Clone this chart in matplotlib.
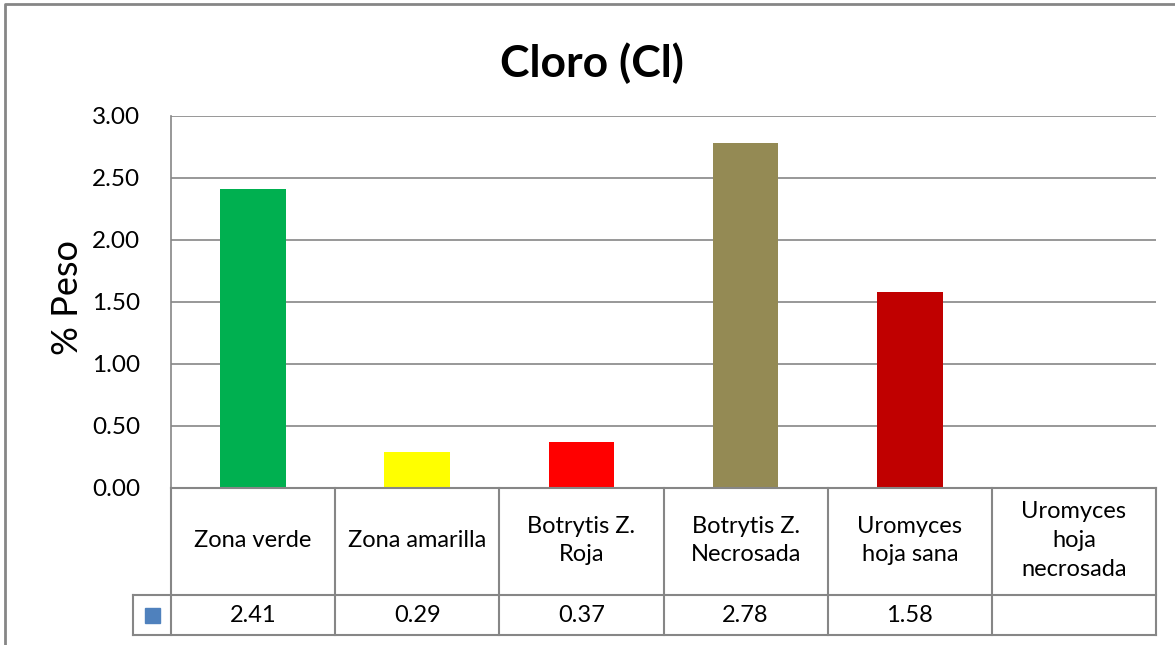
import numpy as np
import matplotlib.pyplot as plt
from matplotlib.patches import Rectangle

plt.rcParams['font.family'] = ['Lato', 'DejaVu Sans']

# data
categories = ['Zona verde', 'Zona amarilla', 'Botrytis Z.\nRoja', 'Botrytis Z.\nNecrosada',
              'Uromyces\nhoja sana', 'Uromyces\nhoja\nnecrosada']
values = [2.41, 0.29, 0.37, 2.78, 1.58, np.nan]
value_labels = ['2.41', '0.29', '0.37', '2.78', '1.58', '']
bar_colors = ['#00B050', '#FFFF00', '#FF0000', '#948A54', '#C00000', '#4F81BD']
yticks = [0.0, 0.5, 1.0, 1.5, 2.0, 2.5, 3.0]

W, H = 1175, 645
grid_c = '#868686'


def fx(px):
    return px / W


def fy(py):
    return 1 - py / H


fig = plt.figure(figsize=(W / 100, H / 100), dpi=100)

# outer chart border (cropped on right and bottom)
bg = fig.add_axes([0, 0, 1, 1])
bg.set_xlim(0, W)
bg.set_ylim(H, 0)
bg.axis('off')
bg.plot([5, 5, W + 5], [H + 5, 4, 4], color=grid_c, lw=2)

# main plot area
x0, x1, ytop, ybot = 171, 1156, 116, 488
ax = fig.add_axes([fx(x0), fy(ybot), fx(x1 - x0), (ybot - ytop) / H])
x = np.arange(len(categories))
ax.bar(x, values, width=0.4, color=bar_colors, zorder=3)
ax.set_xlim(-0.5, len(categories) - 0.5)
ax.set_ylim(0, 3)
ax.set_yticks(yticks)
ax.set_yticklabels([f'{v:.2f}' for v in yticks], fontsize=17.5)
ax.tick_params(axis='y', length=0, pad=22)
ax.set_xticks([])
ax.grid(axis='y', color=grid_c, lw=1.2, zorder=0)
for s in ['top', 'right', 'bottom']:
    ax.spines[s].set_visible(False)
ax.spines['left'].set_color(grid_c)
ax.spines['left'].set_linewidth(1.2)

fig.text(fx(592), fy(63), 'Cloro (Cl)', fontsize=32, fontweight='bold',
         ha='center', va='center')
fig.text(fx(67), fy(297), '% Peso', fontsize=26, rotation=90,
         ha='center', va='center')

# data table below the plot
hdr_h, row_h = 107, 40
tax = fig.add_axes([fx(x0), fy(ybot + hdr_h + row_h), fx(x1 - x0), (hdr_h + row_h) / H])
tax.set_xlim(-0.5, len(categories) - 0.5)
tax.set_ylim(0, hdr_h + row_h)
tax.axis('off')
lw = 1.5
col_px = (x1 - x0) / len(categories)
key_w = (x0 - 133) / col_px
left_key = -0.5 - key_w
# horizontal lines
tax.plot([-0.5, 5.5], [hdr_h + row_h] * 2, color=grid_c, lw=lw, clip_on=False)
tax.plot([left_key, 5.5], [row_h] * 2, color=grid_c, lw=lw, clip_on=False)
tax.plot([left_key, 5.5], [0, 0], color=grid_c, lw=lw, clip_on=False)
# vertical lines
for xi in np.arange(-0.5, 5.6, 1.0):
    tax.plot([xi, xi], [0, hdr_h + row_h], color=grid_c, lw=lw, clip_on=False)
tax.plot([left_key, left_key], [0, row_h], color=grid_c, lw=lw, clip_on=False)
sq = 15 / col_px
tax.add_patch(Rectangle((left_key + key_w / 2 - sq / 2, row_h / 2 - 7.5), sq, 15,
                        color=bar_colors[-1], clip_on=False))
for i, (cat, lab) in enumerate(zip(categories, value_labels)):
    tax.text(i, row_h + hdr_h / 2 + 1, cat, ha='center', va='center', fontsize=17,
             linespacing=1.45)
    tax.text(i, row_h / 2, lab, ha='center', va='center', fontsize=17)

fig.savefig('out.png', dpi=100)
